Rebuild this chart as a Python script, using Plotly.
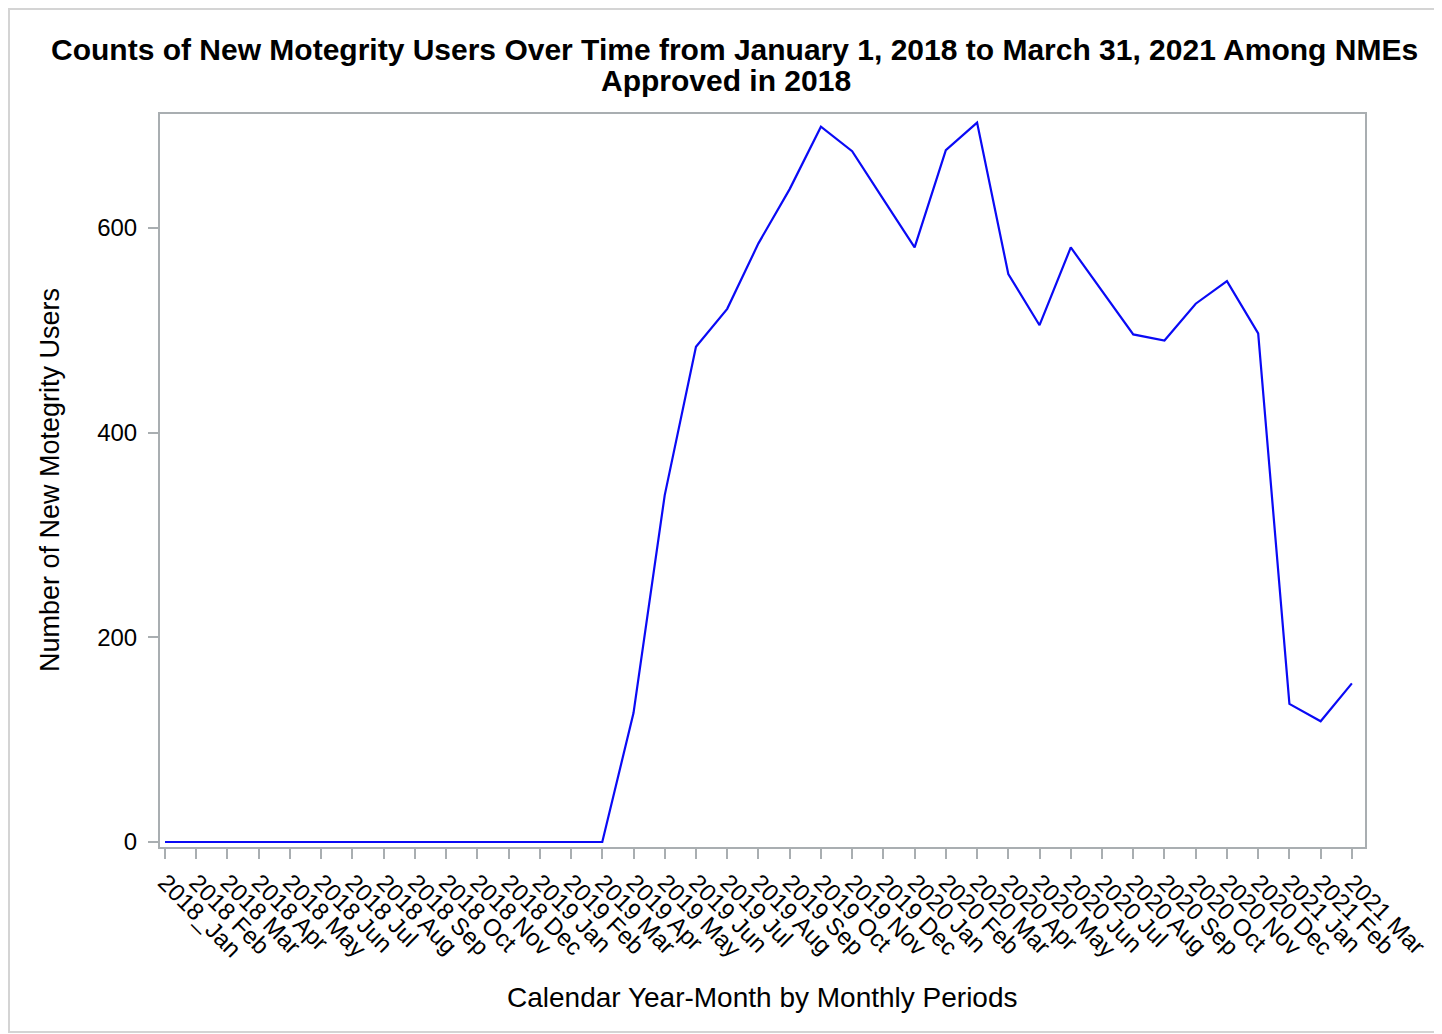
import plotly.graph_objects as go

years = ["2018"] * 12 + ["2019"] * 12 + ["2020"] * 12 + ["2021"] * 3
months = ["Jan", "Feb", "Mar", "Apr", "May", "Jun", "Jul", "Aug", "Sep", "Oct", "Nov", "Dec"] * 3 + ["Jan", "Feb", "Mar"]
periods = [f"{y} {m}" for y, m in zip(years, months)]
tick_labels = ["2018_Jan"] + periods[1:]

new_users = [0, 0, 0, 0, 0, 0, 0, 0, 0, 0, 0, 0,
             0, 0, 0, 126, 339, 484, 521, 585, 638, 699, 675, 628,
             581, 676, 703, 555, 505, 581, 538, 496, 490, 526, 548, 497,
             135, 118, 155]

FONT = "Liberation Sans, Arial, sans-serif"
GRID = "#a9aeb1"

fig = go.Figure()
fig.add_trace(go.Scatter(
    x=periods, y=new_users, mode="lines",
    line=dict(color="#0a0af5", width=2.2),
    showlegend=False,
))

# page coordinates (the page body has an 8px margin)
OFF = 8
PAGE_W, PAGE_H = 1442, 1034
W, H = PAGE_W - OFF, PAGE_H - OFF
PL, PR, PT, PB = 160, 1365, 114, 847  # plot area in page px
L, T = PL - OFF, PT - OFF
R = (OFF + W) - PR
B = (OFF + H) - PB
pw, ph = PR - PL, PB - PT

def px(x):
    return (x - PL) / pw

def py(y):
    return (PB - y) / ph

fig.update_layout(
    width=W, height=H,
    margin=dict(l=L, r=R, t=T, b=B),
    paper_bgcolor="white", plot_bgcolor="white",
    font=dict(family=FONT, color="black"),
    xaxis=dict(
        type="category",
        range=[-0.16, 38.42],
        tickmode="array", tickvals=periods, ticktext=tick_labels,
        tickangle=45,
        tickfont=dict(size=24, family=FONT, color="black"),
        showgrid=False, zeroline=False,
        showline=True, mirror=True, linecolor=GRID, linewidth=2,
        ticks="outside", ticklen=10, tickwidth=2, tickcolor=GRID,
    ),
    yaxis=dict(
        range=[-4.9, 711.4],
        tickvals=[0, 200, 400, 600],
        tickfont=dict(size=24, family=FONT, color="black"),
        showgrid=False, zeroline=False,
        showline=True, mirror=True, linecolor=GRID, linewidth=2,
        ticks="outside", ticklen=10, tickwidth=2, tickcolor=GRID,
        ticklabelstandoff=6,
    ),
    annotations=[
        dict(text="<b>Counts of New Motegrity Users Over Time from January 1, 2018 to March 31, 2021 Among NMEs</b>",
             xref="paper", yref="paper", x=px(734), y=py(49), xanchor="center", yanchor="middle",
             showarrow=False, font=dict(size=30, family=FONT, color="black")),
        dict(text="<b>Approved in 2018</b>",
             xref="paper", yref="paper", x=px(726), y=py(81), xanchor="center", yanchor="middle",
             showarrow=False, font=dict(size=30, family=FONT, color="black")),
        dict(text="Calendar Year-Month by Monthly Periods",
             xref="paper", yref="paper", x=px(762), y=py(997), xanchor="center", yanchor="middle",
             showarrow=False, font=dict(size=28, family=FONT, color="black")),
        dict(text="Number of New Motegrity Users",
             xref="paper", yref="paper", x=px(50), y=py(480), xanchor="center", yanchor="middle",
             textangle=-90, showarrow=False, font=dict(size=27, family=FONT, color="black")),
    ],
    shapes=[
        dict(type="rect", xref="paper", yref="paper",
             x0=px(9), x1=px(1436), y0=py(1032), y1=py(9),
             line=dict(color="#d4d4d4", width=2), layer="below"),
    ],
)

fig.write_html("out.html")
